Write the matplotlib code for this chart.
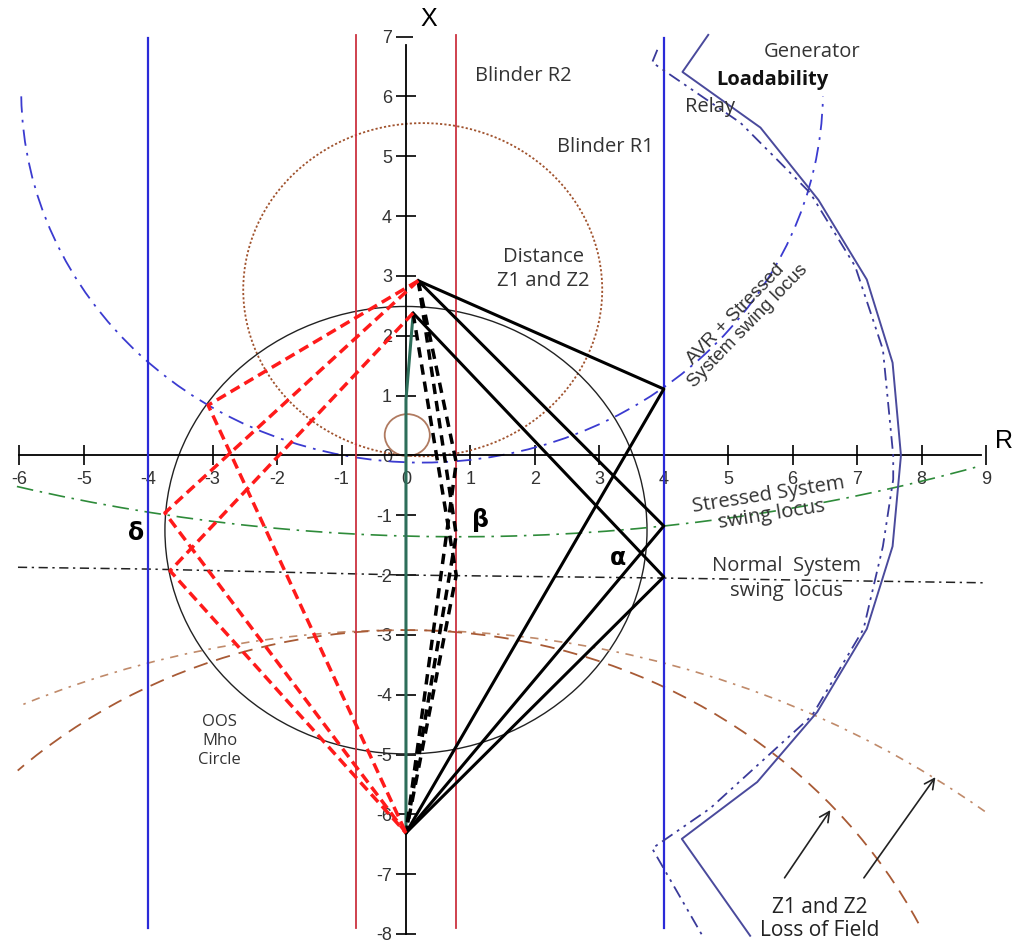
import numpy as np
import matplotlib
matplotlib.use("Agg")
import matplotlib.pyplot as plt
from matplotlib.patches import Arc, Circle

plt.rcParams['axes.unicode_minus'] = False

# ---------------- data ----------------
x_ticks = list(range(-6, 10))
y_ticks = list(range(-8, 8))

blinder_r1 = [-4.0, 4.0]          # blue blinders (R)
blinder_r2 = [-0.78, 0.78]        # red blinders (R)

# swing-path nodes
apex_top = (0.19, 2.92)
apex_low = (0.11, 2.38)
bottom_pt = (0.0, -6.31)
alpha_pts = [(4.0, 1.11), (4.0, -1.18), (4.0, -2.03)]
beta_pts = [(0.78, -0.12), (0.78, -1.33), (0.78, -2.0)]
delta_pts = [(-3.07, 0.84), (-3.74, -0.96), (-3.66, -1.93)]

# circles: centre x, centre y, radius
distance_circle = (0.26, 2.77, 2.785)
small_circle = (0.02, 0.34, 0.35)
oos_mho = (0.0, -1.25, 3.74)
# arcs: centre x, centre y, radius, theta1, theta2 (deg)
avr_locus = (0.25, 6.1, 6.22, 180.9, 359.1)
stressed_locus = (0.81, 26.94, 28.3, 256.0, 286.6)
lof_z2 = (0.0, -17.74, 14.82, 52.7, 113.7)
lof_z1 = (0.0, -11.82, 8.9, 26.7, 132.6)

normal_x = [-6.02, -4.0, 0.0, 4.0, 9.01]
normal_y = [-1.87, -1.90, -2.0, -2.05, -2.13]

load_solid_x = [4.69, 4.29, 5.5, 6.4, 7.15, 7.55, 7.68, 7.55, 7.15, 6.38, 5.45, 4.28, 5.34]
load_solid_y = [7.03, 6.41, 5.48, 4.27, 2.94, 1.55, 0.0, -1.52, -2.9, -4.29, -5.46, -6.41, -8.03]
load_dash_x = [3.9, 3.82, 5.19, 6.27, 6.97, 7.4, 7.56, 7.56, 7.4, 7.1, 6.3, 4.72, 3.82, 4.6]
load_dash_y = [6.78, 6.57, 5.56, 4.39, 3.16, 1.77, 0.0, -0.4, -1.52, -2.9, -4.35, -5.9, -6.57, -8.03]

green_x = [0.11, 0.0, 0.0]
green_y = [2.35, 0.93, -6.31]

# ---------------- figure ----------------
fig = plt.figure(figsize=(10.14, 9.43), dpi=100)
ax = fig.add_axes([0, 0, 1, 1])
ax.set_xlim(-6.299, 9.434)
ax.set_ylim(-8.151, 7.613)
ax.set_facecolor('white')

for s in ['top', 'right']:
    ax.spines[s].set_visible(False)
ax.spines['left'].set_position(('data', 0))
ax.spines['bottom'].set_position(('data', 0))
ax.spines['bottom'].set_bounds(-6, 8.92)
ax.spines['left'].set_bounds(-8, 6.86)
ax.spines['left'].set_linewidth(1.3)
ax.spines['bottom'].set_linewidth(1.3)
ax.set_xticks(x_ticks)
ax.set_yticks(y_ticks)
ax.set_xticklabels([str(v) for v in x_ticks])
ax.set_yticklabels([str(v) for v in y_ticks])
ax.tick_params(direction='inout', length=14, width=1.2, labelsize=13,
               colors='black', pad=4)
ax.tick_params(axis='y', pad=3)
for lab in ax.get_xticklabels() + ax.get_yticklabels():
    lab.set_fontfamily('Liberation Sans')
    lab.set_color('#333333')

# blinders
for xv in blinder_r1:
    ax.plot([xv, xv], [-7.9, 6.98], color='#2a2ad8', lw=1.6, zorder=3)
for xv in blinder_r2:
    ax.plot([xv, xv], [-7.9, 7.03], color='#cc3340', lw=1.3, zorder=3)

# circles
cx, cy, r = distance_circle
ax.add_patch(Circle((cx, cy), r, fill=False, ls=(0, (1.2, 1.2)), lw=1.3, ec='#a0522d', zorder=2))
cx, cy, r = small_circle
ax.add_patch(Circle((cx, cy), r, fill=False, lw=1.3, ec='#b07a60', zorder=2))
cx, cy, r = oos_mho
ax.add_patch(Circle((cx, cy), r, fill=False, lw=1.0, ec='#222222', zorder=2))

# loci arcs
cx, cy, r, t1, t2 = avr_locus
ax.add_patch(Arc((cx, cy), 2 * r, 2 * r, theta1=t1, theta2=t2, ls=(0, (9, 4, 1.5, 4)),
                 lw=1.3, ec='#3b3bd0', zorder=2))
cx, cy, r, t1, t2 = stressed_locus
ax.add_patch(Arc((cx, cy), 2 * r, 2 * r, theta1=t1, theta2=t2, ls=(0, (10, 4, 1.5, 4)),
                 lw=1.2, ec='#2e8b3a', zorder=2))
cx, cy, r, t1, t2 = lof_z2
ax.add_patch(Arc((cx, cy), 2 * r, 2 * r, theta1=t1, theta2=t2, ls=(0, (5, 4, 1.5, 4)),
                 lw=1.2, ec='#c08a6a', zorder=2))
cx, cy, r, t1, t2 = lof_z1
ax.add_patch(Arc((cx, cy), 2 * r, 2 * r, theta1=t1, theta2=t2, ls=(0, (8, 5)),
                 lw=1.3, ec='#a85a35', zorder=2))

ax.plot(normal_x, normal_y, color='#222222', lw=1.1, ls=(0, (6, 3, 1.5, 3)), zorder=2)

# loadability relay
ax.plot(load_solid_x, load_solid_y, color='#4a4a9c', lw=1.4, zorder=3)
ax.plot(load_dash_x, load_dash_y, color='#3a3a9a', lw=1.3, ls=(0, (7, 3, 1.5, 3, 1.5, 3)), zorder=3)

# green line near R=0
ax.plot(green_x, green_y, color='#2d6e5a', lw=2.2, zorder=4)

# swing paths
starts = [apex_top, apex_top, apex_low]
for st, p in zip(starts, alpha_pts):
    ax.plot([st[0], p[0], bottom_pt[0]], [st[1], p[1], bottom_pt[1]],
            color='black', lw=2.2, zorder=5)
for st, p in zip(starts, beta_pts):
    ax.plot([st[0], p[0], bottom_pt[0]], [st[1], p[1], bottom_pt[1]],
            color='black', lw=2.5, ls=(0, (3, 2)), zorder=5)
for st, p in zip(starts, delta_pts):
    ax.plot([st[0], p[0], bottom_pt[0]], [st[1], p[1], bottom_pt[1]],
            color='#ff1a1a', lw=2.5, ls=(0, (3, 1.6)), zorder=5)

# ---------------- labels ----------------
F = 'Open Sans'
tc = '#333333'
ax.text(0.36, 7.29, 'X', fontsize=18, family='Liberation Sans', ha='center', va='center',
        bbox=dict(fc='white', ec='none', pad=6), zorder=6)
ax.text(9.42, 0.24, 'R', fontsize=18, family='Liberation Sans', ha='right', va='center')
ax.text(1.82, 6.34, 'Blinder R2', fontsize=14.5, family=F, color=tc, ha='center', va='center')
ax.text(3.09, 5.16, 'Blinder R1', fontsize=14.5, family=F, color=tc, ha='center', va='center')
ax.text(2.13, 3.11, 'Distance\nZ1 and Z2', fontsize=14.5, family=F, color=tc, ha='center',
        va='center', linespacing=1.25)
ax.text(6.30, 6.75, 'Generator', fontsize=14.5, family=F, color=tc, ha='center', va='center')
ax.text(5.68, 6.28, 'Loadability', fontsize=14.5, family=F, weight='bold', color='#111111',
        ha='center', va='center')
ax.text(4.72, 5.82, 'Relay', fontsize=14.5, family=F, color=tc, ha='center', va='center')
ax.text(5.21, 2.26, 'AVR + Stressed\nSystem swing locus', fontsize=13.5, family='Liberation Sans',
        color=tc, ha='center', va='center', rotation=46, rotation_mode='anchor', linespacing=1.0)
ax.text(5.65, -0.83, 'Stressed System\nswing locus', fontsize=14.5, family=F, color=tc,
        ha='center', va='center', rotation=9, rotation_mode='anchor', linespacing=0.95)
ax.text(5.91, -2.06, 'Normal  System\nswing  locus', fontsize=14.5, family=F, color=tc,
        ha='center', va='center', linespacing=1.3)
ax.text(-2.89, -4.77, 'OOS\nMho\nCircle', fontsize=12, family=F, color=tc,
        ha='center', va='center', linespacing=1.25)
ax.text(6.42, -7.75, 'Z1 and Z2\nLoss of Field', fontsize=15, family=F, color='#222222',
        ha='center', va='center', linespacing=1.15)
ax.text(-4.19, -1.30, 'δ', fontsize=17, weight='bold', family='DejaVu Sans', ha='center', va='center')
ax.text(1.16, -1.08, 'β', fontsize=17, weight='bold', family='DejaVu Sans', ha='center', va='center')
ax.text(3.29, -1.72, 'α', fontsize=17, weight='bold', family='DejaVu Sans', ha='center', va='center')

ax.annotate('', xy=(6.61, -5.89), xytext=(5.85, -7.10),
            arrowprops=dict(arrowstyle='->', color='#222222', lw=1.2, mutation_scale=18))
ax.annotate('', xy=(8.24, -5.34), xytext=(7.08, -7.10),
            arrowprops=dict(arrowstyle='->', color='#222222', lw=1.2, mutation_scale=18))

fig.savefig('out.png', dpi=100, facecolor='white')
